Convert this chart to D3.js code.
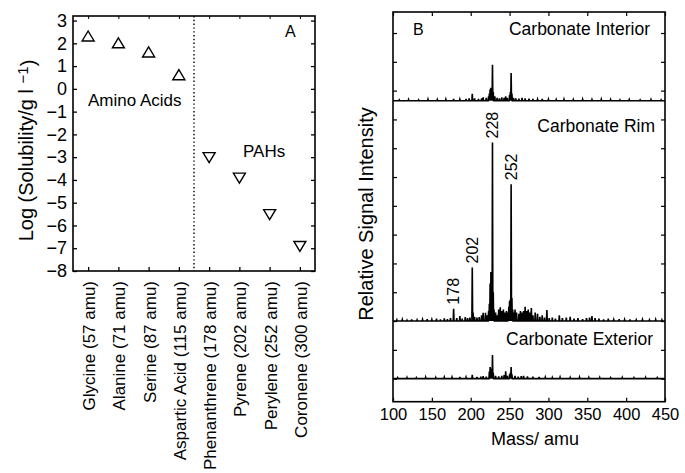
<!DOCTYPE html>
<html>
<head>
<meta charset="utf-8">
<script src="https://cdn.jsdelivr.net/npm/d3@7"></script>
<style>
  body { margin: 0; background: #fff; }
  svg { font-family: "Liberation Sans", Arial, Helvetica, sans-serif; }
</style>
</head>
<body>
<svg id="chart" width="685" height="473"></svg>
<script>
// ---------- panel A data ----------
const compounds = [
  "Glycine (57 amu)", "Alanine (71 amu)", "Serine (87 amu)", "Aspartic Acid (115 amu)",
  "Phenanthrene (178 amu)", "Pyrene (202 amu)", "Perylene (252 amu)", "Coronene (300 amu)"
];
const logSolubility = [2.3, 2.0, 1.6, 0.6, -3.0, -3.9, -5.5, -6.9];
const compoundGroup = ["amino", "amino", "amino", "amino", "pah", "pah", "pah", "pah"];
const yTicksA = d3.range(-8, 4);

// ---------- panel B data ----------
const massTicks = [100, 150, 200, 250, 300, 350, 400, 450];
const peakLabels = [178, 202, 228, 252];

// [mass, intensity]
const interiorPeaks = [
  [108,0.03],[120,0.04],[133,0.03],[145,0.05],[157,0.04],[168,0.05],[178,0.06],[186,0.05],
  [194,0.06],[198,0.08],[202,0.24],[205,0.08],[210,0.06],[214,0.08],[216,0.12],[220,0.1],
  [223,0.15],[224,0.25],[225,0.4],[226,0.45],[227,0.35],[228,1.25],[229,0.3],[231,0.15],
  [234,0.1],[237,0.08],[240,0.12],[243,0.1],[245,0.15],[247,0.1],[250,0.2],[251,0.3],
  [252,0.96],[253,0.25],[255,0.1],[258,0.08],[262,0.07],[266,0.1],[270,0.08],[275,0.07],
  [280,0.06],[286,0.05],[292,0.06],[300,0.05],[310,0.04],[320,0.05],[332,0.04],[344,0.05],
  [356,0.04],[368,0.05],[380,0.04],[392,0.03],[404,0.04],[418,0.03],[432,0.04],[445,0.03]
];
const rimPeaks = [
  [105,0.04],[112,0.05],[118,0.03],[124,0.06],[131,0.04],[138,0.05],[144,0.07],[150,0.05],
  [156,0.08],[161,0.06],[166,0.09],[170,0.07],[174,0.1],[178,0.43],[182,0.1],[186,0.17],
  [189,0.08],[193,0.14],[196,0.1],[199,0.12],[202,1.86],[203,0.3],[205,0.15],[208,0.12],
  [211,0.14],[214,0.2],[216,0.29],[219,0.29],[221,0.2],[223,0.35],[224,0.6],[225,1.3],
  [226,1.7],[227,1.5],[228,6.2],[229,1.0],[230,0.4],[232,0.3],[234,0.2],[236,0.4],
  [238,0.48],[240,0.35],[242,0.4],[244,0.3],[246,0.35],[248,0.3],[249,0.5],[250,0.7],
  [251,0.75],[252,4.75],[253,0.8],[254,0.4],[256,0.3],[257,0.4],[259,0.3],[262,0.25],
  [264,0.35],[266,0.3],[268,0.35],[270,0.5],[272,0.35],[274,0.4],[276,0.3],[278,0.45],
  [280,0.2],[283,0.3],[286,0.25],[289,0.15],[292,0.2],[295,0.12],[298,0.38],[301,0.1],
  [305,0.12],[309,0.08],[314,0.2],[318,0.1],[323,0.12],[328,0.15],[333,0.08],[338,0.1],
  [344,0.07],[349,0.1],[353,0.12],[356,0.17],[360,0.1],[365,0.08],[371,0.06],[377,0.08],
  [384,0.05],[391,0.07],[398,0.05],[405,0.06],[413,0.04],[421,0.05],[430,0.04],[438,0.05],
  [446,0.04]
];
const exteriorPeaks = [
  [106,0.03],[118,0.04],[130,0.03],[142,0.05],[155,0.04],[166,0.05],[176,0.05],[186,0.06],
  [194,0.05],[202,0.13],[208,0.06],[213,0.07],[216,0.09],[220,0.07],[224,0.25],[225,0.4],
  [226,0.35],[227,0.3],[228,0.82],[229,0.2],[232,0.1],[236,0.08],[240,0.1],[243,0.12],
  [245,0.26],[247,0.1],[250,0.15],[251,0.2],[252,0.4],[253,0.15],[257,0.1],[261,0.07],
  [265,0.09],[268,0.1],[273,0.08],[280,0.07],[288,0.06],[296,0.05],[305,0.04],[315,0.05],
  [328,0.04],[340,0.05],[352,0.04],[366,0.04],[380,0.03],[395,0.04],[410,0.03],[425,0.04],
  [440,0.03]
];
const spectra = [
  { name: "Carbonate Interior", peaks: interiorPeaks, offset: 9.65 },
  { name: "Carbonate Rim", peaks: rimPeaks, offset: 2.0 },
  { name: "Carbonate Exterior", peaks: exteriorPeaks, offset: 0 }
];

const svg = d3.select("#chart");
const FONT = 17;

////////////////////////////////////////////////////////////////////////////////
// Panel A

const A = { left: 73, right: 315, top: 16, bottom: 271 };
const xA = d3.scalePoint().domain(compounds).range([A.left, A.right]).padding(0.5);
const yA = d3.scaleLinear().domain([-8, 3.2]).range([A.bottom, A.top]);

const gA = svg.append("g");

gA.append("g")
  .attr("transform", `translate(${A.left},0)`)
  .call(d3.axisLeft(yA).tickValues(yTicksA).tickSize(-4).tickPadding(6))
  .call(g => g.select(".domain").remove())
  .call(g => g.selectAll("text").attr("font-size", FONT + 1).attr("font-family", null))
  .call(g => g.selectAll("line").attr("stroke-width", 1.3));

gA.append("g")
  .attr("transform", `translate(${A.right},0)`)
  .call(d3.axisRight(yA).tickValues(yTicksA).tickSize(-4).tickFormat(""))
  .call(g => g.select(".domain").remove())
  .call(g => g.selectAll("line").attr("stroke-width", 1.3));

gA.append("g")
  .attr("transform", `translate(0,${A.bottom})`)
  .call(d3.axisBottom(xA).tickSize(-4).tickFormat(""))
  .call(g => g.select(".domain").remove())
  .call(g => g.selectAll("line").attr("stroke-width", 1.3));

gA.append("g")
  .attr("transform", `translate(0,${A.top})`)
  .call(d3.axisTop(xA).tickSize(-3).tickFormat(""))
  .call(g => g.select(".domain").remove())
  .call(g => g.selectAll("line").attr("stroke-width", 1));

gA.selectAll(".xlab")
  .data(compounds)
  .enter()
  .append("text")
  .attr("class", "xlab")
  .attr("transform", d => `translate(${xA(d) + 1},${A.bottom + 10}) rotate(-90)`)
  .attr("dy", "0.35em")
  .attr("text-anchor", "end")
  .attr("font-size", FONT)
  .text(d => d);

// dotted divider between amino acids and PAHs
const divX = (xA(compounds[3]) + xA(compounds[4])) / 2;
gA.append("line")
  .attr("x1", divX).attr("x2", divX)
  .attr("y1", A.top).attr("y2", A.bottom)
  .attr("stroke", "#000")
  .attr("stroke-width", 1.4)
  .attr("stroke-dasharray", "1.4,2.4");

gA.append("rect")
  .attr("x", A.left).attr("y", A.top)
  .attr("width", A.right - A.left).attr("height", A.bottom - A.top)
  .attr("fill", "none").attr("stroke", "#000").attr("stroke-width", 1.6);

const triUp = "M-6,4.5L0,-5.5L6,4.5Z";
const triDown = "M-6,-4.5L0,5.5L6,-4.5Z";
gA.selectAll(".pt")
  .data(compounds)
  .enter()
  .append("path")
  .attr("class", "pt")
  .attr("transform", (d, i) => `translate(${xA(d)},${yA(logSolubility[i])})`)
  .attr("d", (d, i) => compoundGroup[i] === "amino" ? triUp : triDown)
  .attr("fill", "none")
  .attr("stroke", "#000")
  .attr("stroke-width", 1.4);

gA.append("text").attr("x", 88).attr("y", 106).attr("font-size", FONT).text("Amino Acids");
gA.append("text").attr("x", 243).attr("y", 157).attr("font-size", FONT).text("PAHs");
gA.append("text").attr("x", 285).attr("y", 37).attr("font-size", FONT - 1).text("A");

const yLabA = gA.append("text")
  .attr("transform", `translate(26,${(A.top + A.bottom) / 2 + 7}) rotate(-90)`)
  .attr("dy", "0.35em")
  .attr("text-anchor", "middle")
  .attr("font-size", FONT + 3);
yLabA.append("tspan").text("Log (Solubility/g l ");
yLabA.append("tspan").attr("dy", "-0.35em").attr("font-size", FONT - 2).text("−1");
yLabA.append("tspan").attr("dy", "0.35em").text(")");

////////////////////////////////////////////////////////////////////////////////
// Panel B

const B = { left: 393, right: 665, top: 12, bottom: 401.7 };
const xB = d3.scaleLinear().domain([100, 450]).range([B.left, B.right]);
const yB = d3.scaleLinear().domain([-0.8, 12.73]).range([B.bottom, B.top]);
const yTicksB = d3.range(0, 13);

const gB = svg.append("g");

gB.append("g")
  .attr("transform", `translate(0,${B.bottom})`)
  .call(d3.axisBottom(xB).tickValues(massTicks).tickSize(-4).tickPadding(7))
  .call(g => g.select(".domain").remove())
  .call(g => g.selectAll("text").attr("font-size", FONT - 0.5).attr("font-family", null))
  .call(g => g.selectAll("line").attr("stroke-width", 1.2));

gB.append("g")
  .attr("transform", `translate(0,${B.top})`)
  .call(d3.axisTop(xB).tickValues(massTicks).tickSize(-4).tickFormat(""))
  .call(g => g.select(".domain").remove())
  .call(g => g.selectAll("line").attr("stroke-width", 1.2));

gB.append("g")
  .attr("transform", `translate(${B.left},0)`)
  .call(d3.axisLeft(yB).tickValues(yTicksB).tickSize(-4).tickFormat(""))
  .call(g => g.select(".domain").remove())
  .call(g => g.selectAll("line").attr("stroke-width", 1.2));

gB.append("g")
  .attr("transform", `translate(${B.right},0)`)
  .call(d3.axisRight(yB).tickValues(yTicksB).tickSize(-4).tickFormat(""))
  .call(g => g.select(".domain").remove())
  .call(g => g.selectAll("line").attr("stroke-width", 1.2));

function stickPoints(peaks) {
  const pts = [[100, 0]];
  peaks.forEach(([m, h]) => pts.push([m - 0.5, 0], [m, h], [m + 0.5, 0]));
  pts.push([450, 0]);
  return pts;
}

spectra.forEach(s => {
  const line = d3.line()
    .x(d => xB(d[0]))
    .y(d => yB(d[1] + s.offset));
  gB.append("path")
    .datum(stickPoints(s.peaks))
    .attr("d", line)
    .attr("fill", "none")
    .attr("stroke", "#000")
    .attr("stroke-width", 1.6)
    .attr("stroke-linejoin", "miter");
});

gB.append("rect")
  .attr("x", B.left).attr("y", B.top)
  .attr("width", B.right - B.left).attr("height", B.bottom - B.top)
  .attr("fill", "none").attr("stroke", "#000").attr("stroke-width", 1.6);

// sub-panel titles
const titleX = [650, 655, 653];
const titleY = [35, 132, 345];
spectra.forEach((s, i) => {
  gB.append("text")
    .attr("x", titleX[i]).attr("y", titleY[i])
    .attr("text-anchor", "end")
    .attr("font-size", FONT + 0.5)
    .text(s.name);
});
gB.append("text").attr("x", 413).attr("y", 35).attr("font-size", FONT - 1).text("B");

// peak labels on the rim spectrum
const rimSpec = spectra[1];
gB.selectAll(".peaklab")
  .data(peakLabels)
  .enter()
  .append("text")
  .attr("class", "peaklab")
  .attr("transform", m => {
    const h = rimSpec.peaks.find(p => p[0] === m)[1];
    return `translate(${xB(m)},${yB(h + rimSpec.offset) - 4}) rotate(-90)`;
  })
  .attr("dy", "0.35em")
  .attr("font-size", FONT - 1)
  .text(m => m);

gB.append("text")
  .attr("x", (B.left + B.right) / 2 + 6).attr("y", 445)
  .attr("text-anchor", "middle")
  .attr("font-size", FONT + 1)
  .text("Mass/ amu");

gB.append("text")
  .attr("transform", `translate(366,214) rotate(-90)`)
  .attr("dy", "0.35em")
  .attr("text-anchor", "middle")
  .attr("font-size", FONT + 3)
  .text("Relative Signal Intensity");
</script>
</body>
</html>
